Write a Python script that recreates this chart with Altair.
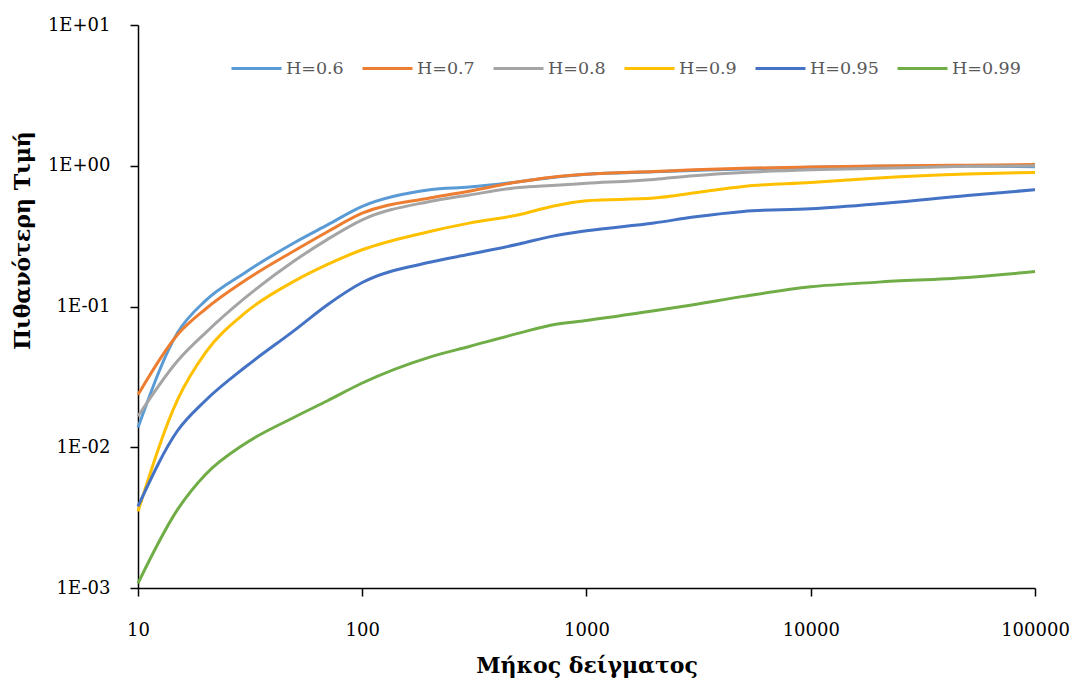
import altair as alt
import pandas as pd

sample_len = [10, 15, 20, 30, 50, 70, 100, 200, 300, 500, 700, 1000, 2000, 3000, 5000, 10000, 20000, 50000, 100000]

h06 = [0.0138, 0.065, 0.11, 0.174, 0.285, 0.38, 0.514, 0.675, 0.705, 0.77, 0.826, 0.87, 0.905, 0.925, 0.95, 0.975, 0.99, 0.995, 0.985]
h07 = [0.0236, 0.063, 0.096, 0.153, 0.25, 0.34, 0.46, 0.59, 0.66, 0.77, 0.83, 0.87, 0.91, 0.935, 0.96, 0.98, 0.995, 1.01, 1.02]
h08 = [0.0166, 0.041, 0.065, 0.115, 0.212, 0.30, 0.413, 0.557, 0.62, 0.70, 0.725, 0.75, 0.80, 0.85, 0.897, 0.937, 0.96, 0.99, 1.0]
h09 = [0.0035, 0.0217, 0.047, 0.09, 0.152, 0.199, 0.253, 0.341, 0.391, 0.449, 0.514, 0.565, 0.589, 0.64, 0.713, 0.76, 0.818, 0.873, 0.897]
h095 = [0.0038, 0.0131, 0.0215, 0.037, 0.068, 0.103, 0.148, 0.206, 0.235, 0.278, 0.315, 0.345, 0.392, 0.432, 0.474, 0.495, 0.537, 0.615, 0.675]
h099 = [0.00108, 0.0036, 0.0064, 0.0106, 0.0164, 0.0214, 0.0286, 0.0437, 0.052, 0.0647, 0.074, 0.0796, 0.0933, 0.103, 0.118, 0.138, 0.149, 0.161, 0.177]

series_names = ["H=0.6", "H=0.7", "H=0.8", "H=0.9", "H=0.95", "H=0.99"]
series_vals = [h06, h07, h08, h09, h095, h099]
colors = ["#5B9BD5", "#ED7D31", "#A5A5A5", "#FFC000", "#4472C4", "#70AD47"]

x_ticks = [10, 100, 1000, 10000, 100000]
y_ticks = [0.001, 0.01, 0.1, 1, 10]

rows = []
for name, vals in zip(series_names, series_vals):
    for i, (x, y) in enumerate(zip(sample_len, vals)):
        rows.append({"n": x, "v": y, "H": name, "order": i})
df = pd.DataFrame(rows)

FONT = "DejaVu Serif"

y_label_expr = ("'1E' + (round(log(datum.value)/LN10) < 0 ? '-' : '+') + '0' + "
                "abs(round(log(datum.value)/LN10))")

chart = alt.Chart(df).mark_line(strokeWidth=3, interpolate="monotone").encode(
    x=alt.X("n:Q",
            scale=alt.Scale(type="log", domain=[10, 100000], nice=False),
            axis=alt.Axis(values=x_ticks, format="d", title="Μήκος δείγματος",
                          grid=False, tickSize=8, labelPadding=25, titlePadding=16,
                          labelFlush=False)),
    y=alt.Y("v:Q",
            scale=alt.Scale(type="log", domain=[0.001, 10], nice=False),
            axis=alt.Axis(values=y_ticks, labelExpr=y_label_expr, title="Πιθανότερη Τιμή",
                          grid=False, tickSize=8, labelPadding=20, titlePadding=13,
                          titleY=215, labelFlush=False)),
    color=alt.Color("H:N",
                    scale=alt.Scale(domain=series_names, range=colors),
                    legend=alt.Legend(orient="none", direction="horizontal",
                                      legendX=92, legendY=17, title=None,
                                      symbolType="stroke", symbolSize=2500,
                                      symbolStrokeWidth=3, labelOffset=3,
                                      columnPadding=12, padding=0,
                                      labelFont=FONT, labelFontSize=17.5,
                                      labelColor="#595959")),
    order="order:O",
).properties(
    width=897, height=563,
    background="white",
    autosize=alt.AutoSizeParams(type="none"),
    padding={"left": 138, "top": 25, "right": 44, "bottom": 98},
).configure_view(stroke=None).configure_axis(
    labelFont=FONT, labelFontSize=18, labelColor="#000000",
    titleFont=FONT, titleFontSize=22, titleFontWeight="bold", titleColor="#000000",
    domainColor="#000000", domainWidth=1.5, tickColor="#000000", tickWidth=1.5,
)

chart.save("out.html", embed_options={"renderer": "svg", "actions": False})
